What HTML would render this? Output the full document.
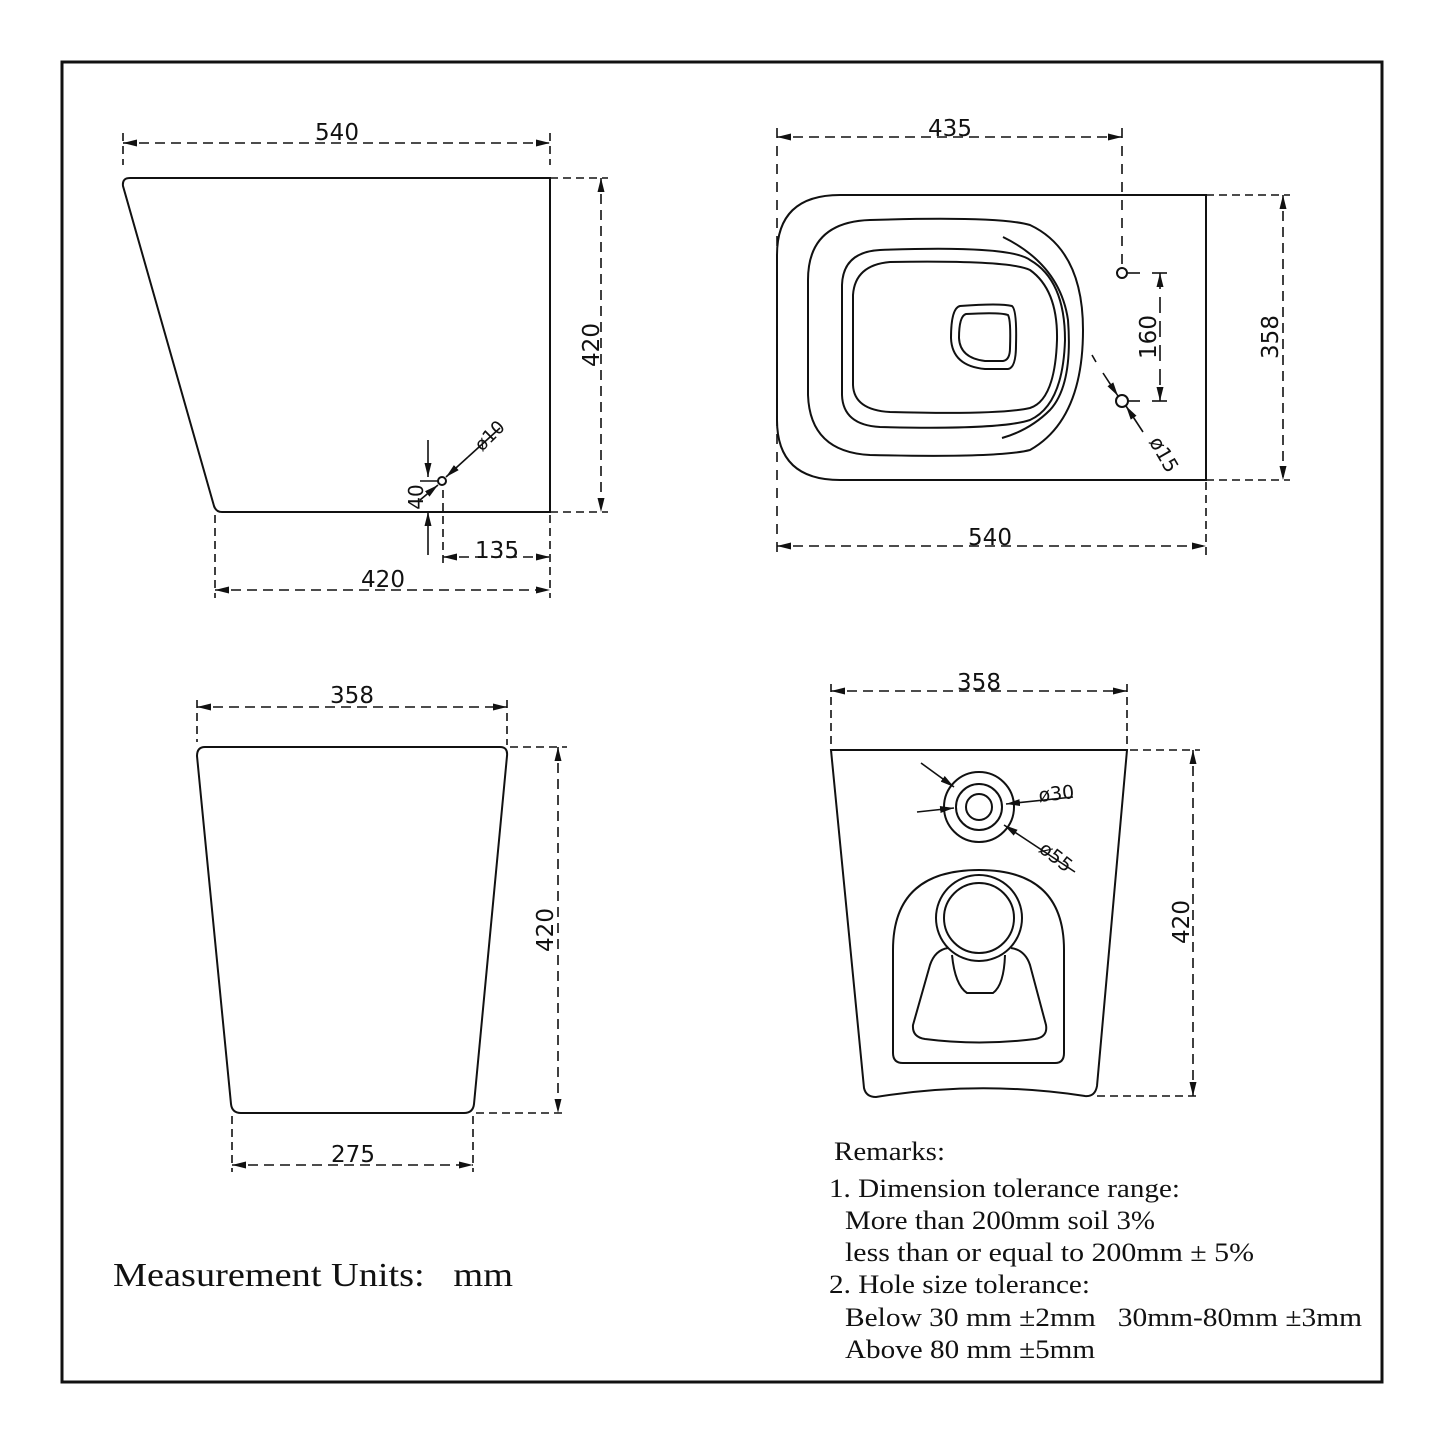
<!DOCTYPE html>
<html><head><meta charset="utf-8"><style>
html,body{margin:0;padding:0;background:#fff}
svg{display:block}
.d{font-family:"DejaVu Sans","Liberation Sans",sans-serif;font-size:23px;fill:#111}
.s{font-family:"Liberation Serif",serif;fill:#111}
</style></head><body>
<svg width="1445" height="1445" viewBox="0 0 1445 1445" xmlns="http://www.w3.org/2000/svg">
<defs>
<marker id="a" viewBox="0 0 14 7" refX="14" refY="3.5" markerWidth="14" markerHeight="7" orient="auto-start-reverse" markerUnits="userSpaceOnUse"><path d="M0,0 L14,3.5 L0,7Z" fill="#111"/></marker>
</defs>
<rect x="62" y="62" width="1320" height="1320" fill="none" stroke="#111" stroke-width="3"/>
<g fill="none" stroke="#111" stroke-width="2">
<!-- TL view -->
<path d="M130,178 H550 V512 H222 Q216,512 214,506 L123,186 Q122,178 130,178Z"/>
<circle cx="442" cy="481" r="4"/>
<g stroke-width="1.6">
<line x1="123" y1="143" x2="550" y2="143" stroke-dasharray="10,6" marker-start="url(#a)" marker-end="url(#a)"/>
<line x1="123" y1="133" x2="123" y2="165" stroke-dasharray="8,5"/>
<line x1="550" y1="133" x2="550" y2="165" stroke-dasharray="8,5"/>
<line x1="550" y1="178" x2="608" y2="178" stroke-dasharray="8,5"/>
<line x1="550" y1="512" x2="608" y2="512" stroke-dasharray="8,5"/>
<line x1="601" y1="178" x2="601" y2="512" stroke-dasharray="10,6" marker-start="url(#a)" marker-end="url(#a)"/>
<line x1="215" y1="515" x2="215" y2="598" stroke-dasharray="8,5"/>
<line x1="550" y1="515" x2="550" y2="598" stroke-dasharray="8,5"/>
<line x1="215" y1="590" x2="550" y2="590" stroke-dasharray="10,6" marker-start="url(#a)" marker-end="url(#a)"/>
<line x1="443" y1="490" x2="443" y2="567" stroke-dasharray="8,5"/>
<line x1="443" y1="557" x2="550" y2="557" stroke-dasharray="10,6" marker-start="url(#a)" marker-end="url(#a)"/>
<line x1="428" y1="440" x2="428" y2="477" marker-end="url(#a)"/>
<line x1="428" y1="555" x2="428" y2="512" marker-end="url(#a)"/>
<line x1="420" y1="481" x2="438" y2="481"/>
<line x1="468" y1="457" x2="446" y2="477" marker-end="url(#a)"/>
<line x1="420" y1="500" x2="438" y2="485" marker-end="url(#a)"/>
<line x1="468" y1="457" x2="500" y2="428"/>
</g>
<!-- TR view -->
<path d="M840,195 H1206 V480 H840 Q777,480 777,420 V255 Q777,195 840,195Z"/>
<path d="M870,220 Q1000,216 1030,225 Q1083,250 1083,330 Q1083,420 1030,450 Q1000,458 870,455 Q810,452 808,395 V280 Q808,222 870,220Z"/>
<path d="M880,250 Q1010,245 1030,260 Q1065,280 1065,340 Q1063,405 1030,420 Q1000,430 880,427 Q843,425 842,395 V285 Q843,252 880,250Z"/>
<path d="M890,262 Q1010,260 1030,270 Q1058,290 1057,340 Q1055,400 1030,408 Q1000,415 890,412 Q854,410 853,385 V295 Q855,265 890,262Z"/>
<path d="M1003,237 Q1060,265 1068,320 Q1073,385 1050,410 Q1030,430 1002,438"/>
<path d="M960,306 Q1000,303 1012,306 Q1017,310 1016,345 Q1016,368 1008,369 H985 Q952,366 951,338 Q951,308 960,306Z"/>
<path d="M966,314 Q1000,312 1008,315 Q1011,320 1010,348 Q1010,360 1003,361 H985 Q960,358 959,338 Q959,316 966,314Z"/>
<circle cx="1122" cy="273" r="5"/>
<circle cx="1122" cy="401" r="6"/>
<g stroke-width="1.6">
<line x1="777" y1="128" x2="777" y2="560" stroke-dasharray="10,8"/>
<line x1="1122" y1="128" x2="1122" y2="268" stroke-dasharray="10,8"/>
<line x1="777" y1="137" x2="1122" y2="137" stroke-dasharray="10,6" marker-start="url(#a)" marker-end="url(#a)"/>
<line x1="1128" y1="273" x2="1140" y2="273"/>
<line x1="1128" y1="401" x2="1140" y2="401"/>
<line x1="1152" y1="273" x2="1167" y2="273"/>
<line x1="1152" y1="401" x2="1167" y2="401"/>
<line x1="1160" y1="273" x2="1160" y2="401" stroke-dasharray="16,8" marker-start="url(#a)" marker-end="url(#a)"/>
<line x1="1206" y1="195" x2="1290" y2="195" stroke-dasharray="8,5"/>
<line x1="1206" y1="480" x2="1290" y2="480" stroke-dasharray="8,5"/>
<line x1="1283" y1="195" x2="1283" y2="480" stroke-dasharray="10,6" marker-start="url(#a)" marker-end="url(#a)"/>
<line x1="1206" y1="482" x2="1206" y2="555" stroke-dasharray="8,5"/>
<line x1="777" y1="546" x2="1206" y2="546" stroke-dasharray="10,6" marker-start="url(#a)" marker-end="url(#a)"/>
<line x1="1092" y1="355" x2="1096" y2="362"/>
<line x1="1103" y1="373" x2="1118" y2="396" marker-end="url(#a)"/>
<line x1="1143" y1="432" x2="1126" y2="406" marker-end="url(#a)"/>
</g>
<!-- BL view -->
<path d="M205,747 H500 Q508,747 507,756 L474,1104 Q473,1113 464,1113 H241 Q232,1113 231,1104 L197,756 Q197,747 205,747Z"/>
<g stroke-width="1.6">
<line x1="197" y1="700" x2="197" y2="742" stroke-dasharray="8,5"/>
<line x1="507" y1="700" x2="507" y2="745" stroke-dasharray="8,5"/>
<line x1="197" y1="707" x2="507" y2="707" stroke-dasharray="10,6" marker-start="url(#a)" marker-end="url(#a)"/>
<line x1="510" y1="747" x2="567" y2="747" stroke-dasharray="8,5"/>
<line x1="476" y1="1113" x2="567" y2="1113" stroke-dasharray="8,5"/>
<line x1="558" y1="747" x2="558" y2="1113" stroke-dasharray="10,6" marker-start="url(#a)" marker-end="url(#a)"/>
<line x1="232" y1="1116" x2="232" y2="1172" stroke-dasharray="8,5"/>
<line x1="473" y1="1116" x2="473" y2="1172" stroke-dasharray="8,5"/>
<line x1="232" y1="1165" x2="473" y2="1165" stroke-dasharray="10,6" marker-start="url(#a)" marker-end="url(#a)"/>
</g>
<!-- BR view -->
<path d="M831,750 H1127 L1097,1086 Q1095,1097 1085,1096 Q980,1080 876,1097 Q866,1097 864,1088 Z"/>
<circle cx="979" cy="807" r="35"/>
<circle cx="979" cy="807" r="23"/>
<circle cx="979" cy="807" r="13"/>
<path d="M903,1063 H1055 Q1064,1063 1064,1053 V950 Q1064,870 979,870 Q893,870 893,950 V1053 Q893,1063 903,1063Z"/>
<circle cx="979" cy="918" r="43"/>
<circle cx="979" cy="918" r="35"/>
<path d="M948,948 Q935,950 930,965 L913,1025 Q912,1037 925,1039 Q979,1046 1035,1039 Q1048,1037 1046,1025 L1030,965 Q1025,950 1011,948"/>
<path d="M952,955 Q955,985 967,993 H993 Q1004,985 1005,955"/>
<g stroke-width="1.6">
<line x1="921" y1="763" x2="954" y2="787" marker-end="url(#a)"/>
<line x1="1075" y1="872" x2="1004" y2="825" marker-end="url(#a)"/>
<line x1="917" y1="812" x2="954" y2="808" marker-end="url(#a)"/>
<line x1="1073" y1="797" x2="1006" y2="804" marker-end="url(#a)"/>
<line x1="831" y1="684" x2="831" y2="745" stroke-dasharray="8,5"/>
<line x1="1127" y1="684" x2="1127" y2="745" stroke-dasharray="8,5"/>
<line x1="831" y1="691" x2="1127" y2="691" stroke-dasharray="10,6" marker-start="url(#a)" marker-end="url(#a)"/>
<line x1="1130" y1="750" x2="1200" y2="750" stroke-dasharray="8,5"/>
<line x1="1097" y1="1096" x2="1200" y2="1096" stroke-dasharray="8,5"/>
<line x1="1193" y1="750" x2="1193" y2="1096" stroke-dasharray="10,6" marker-start="url(#a)" marker-end="url(#a)"/>
</g>
</g>
<!-- labels -->
<text class="d" x="337" y="140" text-anchor="middle">540</text>
<text class="d" transform="translate(599,345) rotate(-90)" text-anchor="middle">420</text>
<text class="d" x="383" y="587" text-anchor="middle">420</text>
<text class="d" x="497" y="558" text-anchor="middle">135</text>
<text class="d" transform="translate(423,497) rotate(-90)" text-anchor="middle" style="font-size:20px">40</text>
<text class="d" transform="translate(494,440) rotate(-45)" text-anchor="middle" style="font-size:18px">ø10</text>
<text class="d" x="950" y="136" text-anchor="middle">435</text>
<text class="d" transform="translate(1156,337) rotate(-90)" text-anchor="middle">160</text>
<text class="d" transform="translate(1278,337) rotate(-90)" text-anchor="middle">358</text>
<text class="d" x="990" y="545" text-anchor="middle">540</text>
<text class="d" transform="translate(1158,458) rotate(60)" text-anchor="middle" style="font-size:20px">ø15</text>
<text class="d" x="352" y="703" text-anchor="middle">358</text>
<text class="d" transform="translate(553,930) rotate(-90)" text-anchor="middle">420</text>
<text class="d" x="353" y="1162" text-anchor="middle">275</text>
<text class="d" x="979" y="690" text-anchor="middle">358</text>
<text class="d" transform="translate(1189,922) rotate(-90)" text-anchor="middle">420</text>
<text class="d" transform="translate(1057,800) rotate(-6)" text-anchor="middle" style="font-size:19px">ø30</text>
<text class="d" transform="translate(1052,862) rotate(38)" text-anchor="middle" style="font-size:19px">ø55</text>
<text class="s" x="113" y="1286" style="font-size:34px" textLength="400" lengthAdjust="spacingAndGlyphs" xml:space="preserve">Measurement Units:   mm</text>
<g class="s" style="font-size:26px">
<text x="834" y="1160" textLength="111" lengthAdjust="spacingAndGlyphs">Remarks:</text>
<text x="829" y="1197" textLength="351" lengthAdjust="spacingAndGlyphs">1. Dimension tolerance range:</text>
<text x="845" y="1229" textLength="310" lengthAdjust="spacingAndGlyphs">More than 200mm soil 3%</text>
<text x="845" y="1261" textLength="409" lengthAdjust="spacingAndGlyphs">less than or equal to 200mm ± 5%</text>
<text x="829" y="1293" textLength="261" lengthAdjust="spacingAndGlyphs">2. Hole size tolerance:</text>
<text x="845" y="1326" textLength="517" lengthAdjust="spacingAndGlyphs" xml:space="preserve">Below 30 mm ±2mm   30mm-80mm ±3mm</text>
<text x="845" y="1358" textLength="250" lengthAdjust="spacingAndGlyphs">Above 80 mm ±5mm</text>
</g>
</svg>
</body></html>
